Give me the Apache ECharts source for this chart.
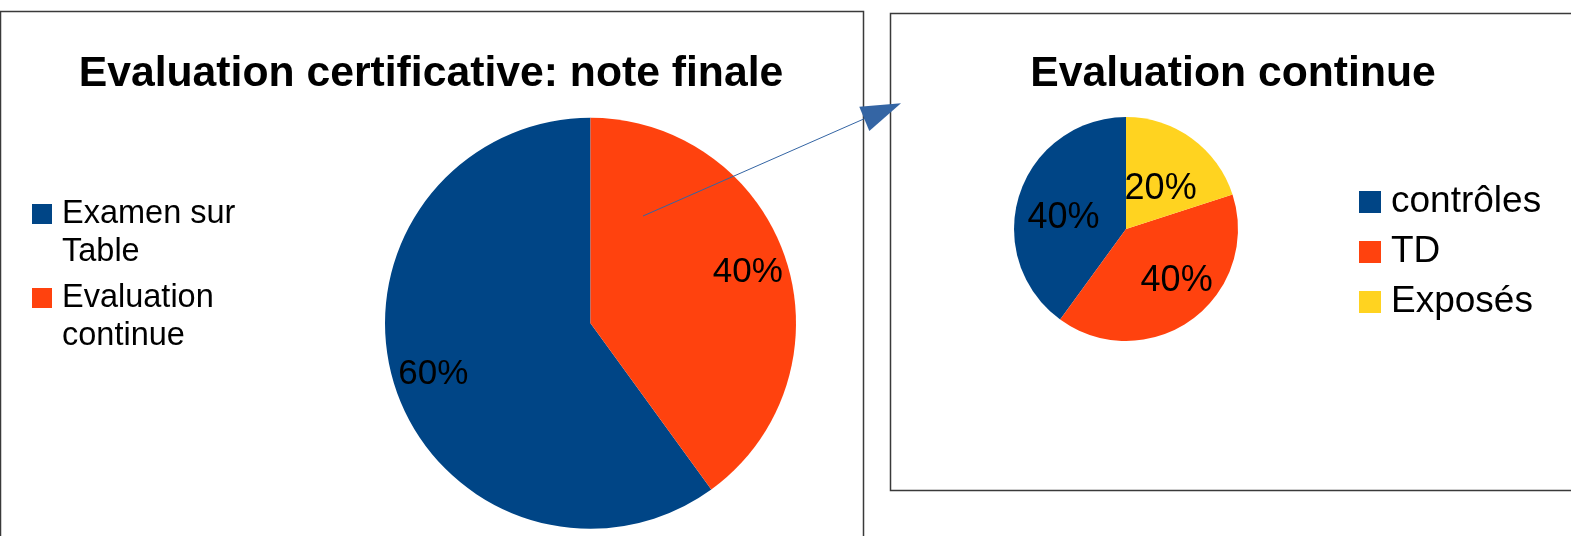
<!DOCTYPE html>
<html>
<head>
<meta charset="utf-8">
<script src="https://cdn.jsdelivr.net/npm/echarts@6/dist/echarts.min.js"></script>
<style>
  html, body { margin: 0; padding: 0; background: #ffffff; }
  #chart { width: 1571px; height: 536px; }
</style>
</head>
<body>
<div id="chart"></div>
<script>
// ---- data ----
const leftTitle = 'Evaluation certificative: note finale';
const leftCategories = ['Examen sur Table', 'Evaluation continue'];
const leftLegendLabels = ['Examen sur\nTable', 'Evaluation\ncontinue'];
const leftValues = [60, 40];

const rightTitle = 'Evaluation continue';
const rightCategories = ['contrôles', 'TD', 'Exposés'];
const rightValues = [40, 40, 20];

const leftColors = ['#004586', '#ff420e'];
const rightColors = ['#004586', '#ff420e', '#ffd320'];

// ---- layout / style ----
const FONT = '"Liberation Sans", Arial, sans-serif';
const L = { cx: 590.5, cy: 323.3, r: 205.5 };
const R = { cx: 1126, cy: 229, r: 112 };
const LEG_LH = 38;
// small per-label nudges (pixels) for the right pie's percentage labels
const rightLabelNudge = [[0, 9], [12, -1], [-4, 13]];

function mainPie(cats, vals, colors, geo) {
  return {
    type: 'pie',
    center: [geo.cx, geo.cy],
    radius: [0, geo.r],
    startAngle: 90,
    clockwise: false,
    avoidLabelOverlap: false,
    label: { show: false },
    labelLine: { show: false },
    emphasis: { disabled: true },
    itemStyle: { borderWidth: 0 },
    data: cats.map((c, i) => ({ name: c, value: vals[i], itemStyle: { color: colors[i] } }))
  };
}
function labelPie(cats, vals, geo, innerFrac, fontSize, nudge) {
  const s = {
    type: 'pie',
    silent: true,
    center: [geo.cx, geo.cy],
    radius: [geo.r * innerFrac, geo.r],
    startAngle: 90,
    clockwise: false,
    avoidLabelOverlap: false,
    percentPrecision: 0,
    emphasis: { disabled: true },
    itemStyle: { color: 'rgba(0,0,0,0)', borderWidth: 0 },
    label: {
      show: true, position: 'inside', formatter: '{d}%',
      color: '#000', fontFamily: FONT, fontSize: fontSize
    },
    labelLine: { show: false },
    data: cats.map((c, i) => ({ name: c, value: vals[i] }))
  };
  if (nudge) {
    s.labelLayout = p => ({ dx: nudge[p.dataIndex][0], dy: nudge[p.dataIndex][1] });
  }
  return s;
}
function leftLegend(idx, top) {
  return {
    data: [leftCategories[idx]],
    left: 32, top: top, orient: 'vertical', padding: 0,
    itemWidth: 20, itemHeight: 20, icon: 'rect',
    selectedMode: false,
    // leading blank line keeps the marker aligned with the first text line
    formatter: n => '\n' + leftLegendLabels[leftCategories.indexOf(n)],
    textStyle: { fontFamily: FONT, fontSize: 32.5, color: '#000', lineHeight: LEG_LH, padding: [0, 0, 0, 5] }
  };
}

const chart = echarts.init(document.getElementById('chart'), null, { renderer: 'canvas' });
chart.setOption({
  animation: false,
  backgroundColor: '#ffffff',
  title: [
    { text: leftTitle, left: 431, top: 53, textAlign: 'center', textVerticalAlign: 'top', padding: 0,
      textStyle: { fontFamily: FONT, fontWeight: 'bold', fontSize: 42.7, color: '#000' } },
    { text: rightTitle, left: 1233, top: 53, textAlign: 'center', textVerticalAlign: 'top', padding: 0,
      textStyle: { fontFamily: FONT, fontWeight: 'bold', fontSize: 42.7, color: '#000' } }
  ],
  legend: [
    leftLegend(0, 214 - 57),
    leftLegend(1, 298 - 57),
    {
      data: rightCategories,
      left: 1359, top: 183.5, orient: 'vertical', padding: 0,
      itemWidth: 22, itemHeight: 22, itemGap: 13, icon: 'rect',
      selectedMode: false,
      textStyle: { fontFamily: FONT, fontSize: 37, color: '#000', padding: [0, 0, 0, 5] }
    }
  ],
  graphic: [
    { type: 'rect', z: 1, shape: { x: 0.5, y: 11.5, width: 863, height: 700 },
      style: { fill: null, stroke: '#3a3a3a', lineWidth: 1.5 } },
    { type: 'rect', z: 1, shape: { x: 890.5, y: 13.5, width: 800, height: 477 },
      style: { fill: null, stroke: '#3a3a3a', lineWidth: 1.5 } },
    { type: 'line', z: 100, shape: { x1: 643, y1: 216, x2: 866, y2: 118 },
      style: { stroke: '#3465a4', lineWidth: 1 } },
    { type: 'polygon', z: 100, shape: { points: [[901, 103.3], [859.3, 106.7], [869.3, 131]] },
      style: { fill: '#3465a4' } }
  ],
  series: [
    mainPie(leftCategories, leftValues, leftColors, L),
    mainPie(rightCategories, rightValues, rightColors, R),
    labelPie(leftCategories, leftValues, L, 0.58, 35),
    labelPie(rightCategories, rightValues, R, 0.12, 36, rightLabelNudge)
  ]
});
</script>
</body>
</html>
